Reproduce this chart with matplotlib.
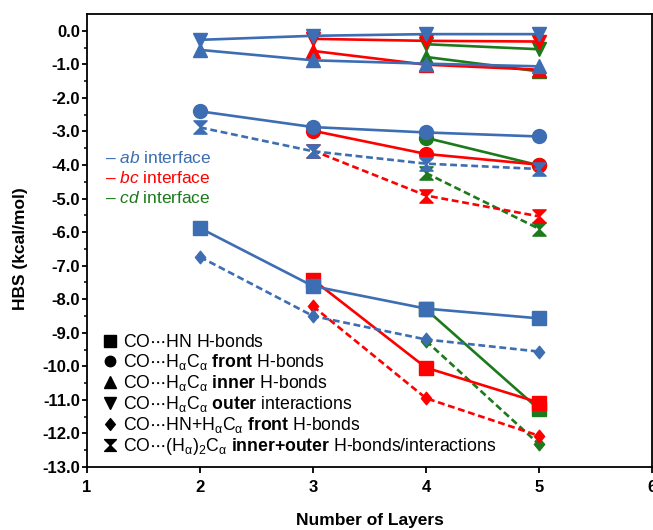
import matplotlib
matplotlib.use("Agg")
import matplotlib.pyplot as plt
from matplotlib.lines import Line2D
from matplotlib.path import Path
from matplotlib import font_manager
import numpy as np

# ---------------- data ----------------
layers_ab = [2, 3, 4, 5]
layers_bc = [3, 4, 5]
layers_cd = [4, 5]

# ab interface (blue)
ab_square = [-5.88, -7.61, -8.28, -8.57]
ab_circle = [-2.40, -2.87, -3.03, -3.15]
ab_up = [-0.57, -0.88, -0.98, -1.06]
ab_down = [-0.27, -0.15, -0.10, -0.10]
ab_diamond = [-6.74, -8.50, -9.20, -9.56]
ab_hourglass = [-2.88, -3.59, -3.96, -4.12]

# bc interface (red)
bc_square = [-7.42, -10.04, -11.08]
bc_circle = [-2.98, -3.67, -3.99]
bc_up = [-0.60, -1.01, -1.16]
bc_down = [-0.24, -0.30, -0.32]
bc_diamond = [-8.21, -10.95, -12.07]
bc_hourglass = [-3.57, -4.91, -5.53]

# cd interface (green)
cd_square = [-8.30, -11.28]
cd_circle = [-3.19, -4.01]
cd_up = [-0.78, -1.21]
cd_down = [-0.40, -0.55]
cd_diamond = [-9.24, -12.32]
cd_hourglass = [-4.24, -5.90]

x_ticks = [1, 2, 3, 4, 5, 6]
y_ticks = list(range(0, -14, -1))

legend_labels = [
    r"CO$\cdots$HN H-bonds",
    r"CO$\cdots$H$_{\mathrm{\alpha}}$C$_{\mathrm{\alpha}}$ $\mathbf{front}$ H-bonds",
    r"CO$\cdots$H$_{\mathrm{\alpha}}$C$_{\mathrm{\alpha}}$ $\mathbf{inner}$ H-bonds",
    r"CO$\cdots$H$_{\mathrm{\alpha}}$C$_{\mathrm{\alpha}}$ $\mathbf{outer}$ interactions",
    r"CO$\cdots$HN+H$_{\mathrm{\alpha}}$C$_{\mathrm{\alpha}}$ $\mathbf{front}$ H-bonds",
    r"CO$\cdots$(H$_{\mathrm{\alpha}}$)$_2$C$_{\mathrm{\alpha}}$ $\mathbf{inner{+}outer}$ H-bonds/interactions",
]
interface_labels = [r"– $\mathit{ab}$ interface", r"– $\mathit{bc}$ interface", r"– $\mathit{cd}$ interface"]

# ---------------- style ----------------
plt.rcParams['font.family'] = ['Liberation Sans', 'DejaVu Sans']
plt.rcParams['mathtext.fontset'] = 'custom'
plt.rcParams['mathtext.rm'] = 'Liberation Sans'
plt.rcParams['mathtext.it'] = 'Liberation Sans:italic'
plt.rcParams['mathtext.bf'] = 'Liberation Sans:bold'

BLUE = '#3d6db2'
RED = '#ff0000'
GREEN = '#1c7a1c'

hourglass = Path([(-1, 1), (1, 1), (0, 0), (1, -1), (-1, -1), (0, 0), (-1, 1)],
                 [Path.MOVETO, Path.LINETO, Path.LINETO, Path.LINETO, Path.LINETO, Path.LINETO, Path.CLOSEPOLY])
diamond = Path([(0, 1), (0.82, 0), (0, -1), (-0.82, 0), (0, 1)],
               [Path.MOVETO, Path.LINETO, Path.LINETO, Path.LINETO, Path.CLOSEPOLY])

fig = plt.figure(figsize=(6.53, 5.30), dpi=100)
ax = fig.add_axes([87 / 653, 1 - 467 / 530, 565 / 653, 453 / 530])

LW = 1.9
dash = (2.6, 1.4)

def draw(xs, series, color, z):
    sq, ci, up, dn, di, hg = series
    ax.plot(xs, sq, '-', color=color, lw=LW, marker='s', ms=9.5, zorder=z)
    ax.plot(xs, ci, '-', color=color, lw=LW, marker='o', ms=10, zorder=z)
    ax.plot(xs, up, '-', color=color, lw=LW, marker='^', ms=10, zorder=z)
    ax.plot(xs, dn, '-', color=color, lw=LW, marker='v', ms=10, zorder=z)
    ax.plot(xs, di, '--', dashes=dash, color=color, lw=LW, marker=diamond, ms=9, zorder=z)
    ax.plot(xs, hg, '--', dashes=dash, color=color, lw=LW, marker=hourglass, ms=9.5, zorder=z)

draw(layers_cd, [cd_square, cd_circle, cd_up, cd_down, cd_diamond, cd_hourglass], GREEN, 3)
draw(layers_bc, [bc_square, bc_circle, bc_up, bc_down, bc_diamond, bc_hourglass], RED, 4)
draw(layers_ab, [ab_square, ab_circle, ab_up, ab_down, ab_diamond, ab_hourglass], BLUE, 5)

ax.set_xlim(1, 6)
ax.set_ylim(-13, 0.5)
ax.set_xticks(x_ticks)
ax.set_yticks(y_ticks)
ax.set_yticks(np.arange(-12.5, 0.5, 1.0), minor=True)
ax.set_yticklabels([f"{v:.1f}" for v in y_ticks])

fp = font_manager.FontProperties(family=['Liberation Sans'], weight='bold', size=12)
for lab in ax.get_xticklabels() + ax.get_yticklabels():
    lab.set_fontproperties(fp)
ax.tick_params(axis='y', which='major', direction='out', length=3.5, width=1.3, right=False, pad=1.5)
ax.tick_params(axis='x', which='major', direction='out', length=4, width=1.3, top=False, pad=5)
ax.tick_params(axis='y', which='minor', direction='out', length=2.5, width=1.1)
for s in ax.spines.values():
    s.set_linewidth(1.3)

fpl = font_manager.FontProperties(family=['Liberation Sans'], weight='bold', size=12.5)
ax.set_xlabel("Number of Layers", fontproperties=fpl, va='center')
ax.set_ylabel("HBS (kcal/mol)", fontproperties=fpl, va='center')
ax.xaxis.set_label_coords(0.5, -0.119)
ax.yaxis.set_label_coords(-0.118, 0.483)

# interface colour key
for i, (t, c) in enumerate(zip(interface_labels, [BLUE, RED, GREEN])):
    ax.text(1.155, -3.78 - i * 0.6, t, color=c, fontsize=12.5, va='center', ha='left', zorder=6)

# marker key
handles = [Line2D([], [], color='black', linestyle='none', marker=m, markersize=s)
           for m, s in [('s', 8), ('o', 7.5), ('^', 8), ('v', 8), (diamond, 8.5), (hourglass, 8.5)]]
leg = ax.legend(handles, legend_labels, loc='lower left', bbox_to_anchor=(0.012, 0.003),
                frameon=False, fontsize=12.7, handlelength=0.8, handletextpad=0.35,
                labelspacing=0.05, borderaxespad=0.3, borderpad=0.2)

fig.savefig("out.png", dpi=100)
